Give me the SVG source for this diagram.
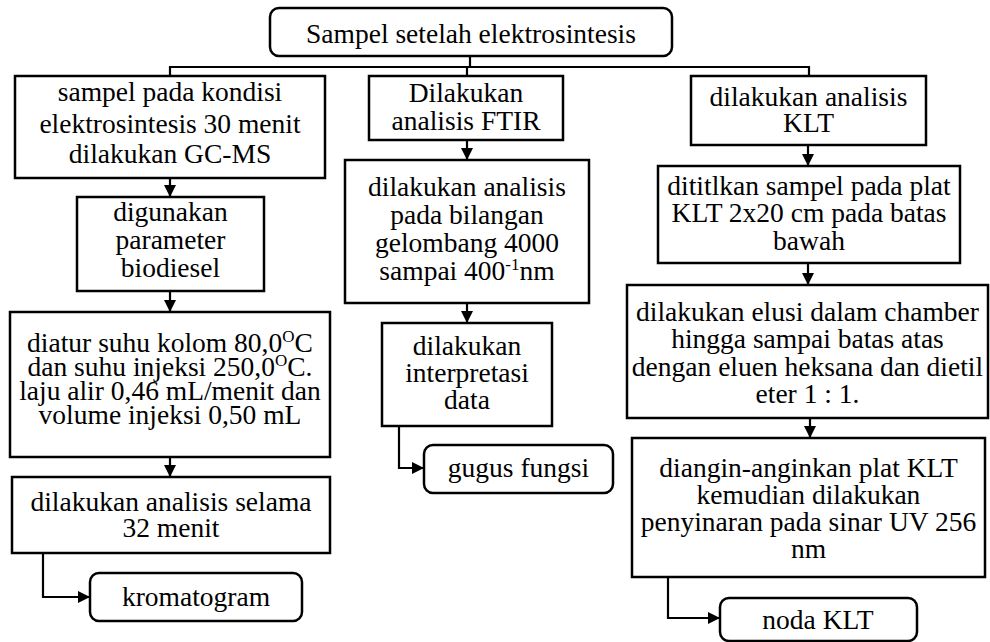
<svg xmlns="http://www.w3.org/2000/svg" width="990" height="642" viewBox="0 0 990 642">
  <style>
    .box { fill: #ffffff; stroke: #000000; stroke-width: 2.5; }
    .end { fill: #ffffff; stroke: #000000; stroke-width: 2.5; }
    .lbl { font-family: "Liberation Serif", "Times New Roman", serif; font-size: 27.5px; fill: #000000; text-anchor: middle; }
    .sup { font-size: 17px; }
    .wire { fill: none; stroke: #000000; stroke-width: 2.2; }
  </style>
  <defs>
    <marker id="arrow" viewBox="0 0 10 10" markerUnits="userSpaceOnUse" markerWidth="12" markerHeight="12" refX="10" refY="5" orient="auto">
      <path d="M0,0 L10,5 L0,10 z" fill="#000000"/>
    </marker>
  </defs>
  <rect width="990" height="642" fill="#ffffff"/>

  <!-- connectors -->
  <g id="connectors">
    <path class="wire" d="M470,56 V67"/>
    <path class="wire" d="M170,76 V67 H809 V76"/>
    <path class="wire" d="M467,67 V76"/>
    <path class="wire" d="M170,178 V197" marker-end="url(#arrow)"/>
    <path class="wire" d="M170,291 V312" marker-end="url(#arrow)"/>
    <path class="wire" d="M170,457 V477" marker-end="url(#arrow)"/>
    <path class="wire" d="M43,553 V597 H90" marker-end="url(#arrow)"/>
    <path class="wire" d="M467,140 V160" marker-end="url(#arrow)"/>
    <path class="wire" d="M467,303 V323" marker-end="url(#arrow)"/>
    <path class="wire" d="M399,426 V468 H424" marker-end="url(#arrow)"/>
    <path class="wire" d="M808,145 V166" marker-end="url(#arrow)"/>
    <path class="wire" d="M808,263 V285" marker-end="url(#arrow)"/>
    <path class="wire" d="M810,418 V438" marker-end="url(#arrow)"/>
    <path class="wire" d="M668,577 V618 H720" marker-end="url(#arrow)"/>
  </g>

  <!-- root -->
  <g id="sampel">
    <rect class="end" x="270" y="8" width="402" height="48" rx="9"/>
    <text class="lbl" x="471" y="43">Sampel setelah elektrosintesis</text>
  </g>

  <!-- GC-MS branch -->
  <g id="gcms">
    <rect class="box" x="15" y="76" width="310" height="102"/>
    <text class="lbl" x="170" y="101">sampel pada kondisi</text>
    <text class="lbl" x="170" y="133">elektrosintesis 30 menit</text>
    <text class="lbl" x="170" y="163">dilakukan GC-MS</text>
  </g>
  <g id="parameter">
    <rect class="box" x="77" y="197" width="187" height="94"/>
    <text class="lbl" x="170.5" y="221">digunakan</text>
    <text class="lbl" x="170.5" y="249">parameter</text>
    <text class="lbl" x="170.5" y="277">biodiesel</text>
  </g>
  <g id="kondisi">
    <rect class="box" x="10" y="312" width="320" height="145"/>
    <text class="lbl" x="170" y="352">diatur suhu kolom 80,0<tspan class="sup" dy="-10">O</tspan><tspan dy="10">C</tspan></text>
    <text class="lbl" x="170" y="376">dan suhu injeksi 250,0<tspan class="sup" dy="-10">O</tspan><tspan dy="10">C.</tspan></text>
    <text class="lbl" x="170" y="400">laju alir 0,46 mL/menit dan</text>
    <text class="lbl" x="170" y="424">volume injeksi 0,50 mL</text>
  </g>
  <g id="analisis-gcms">
    <rect class="box" x="12" y="477" width="318" height="76"/>
    <text class="lbl" x="171" y="511">dilakukan analisis selama</text>
    <text class="lbl" x="171" y="537">32 menit</text>
  </g>
  <g id="kromatogram">
    <rect class="end" x="90" y="573" width="212" height="48" rx="9"/>
    <text class="lbl" x="196" y="606">kromatogram</text>
  </g>

  <!-- FTIR branch -->
  <g id="ftir">
    <rect class="box" x="369" y="76" width="194" height="64"/>
    <text class="lbl" x="466" y="102">Dilakukan</text>
    <text class="lbl" x="466" y="130">analisis FTIR</text>
  </g>
  <g id="bilangan">
    <rect class="box" x="345" y="160" width="244" height="143"/>
    <text class="lbl" x="467" y="196">dilakukan analisis</text>
    <text class="lbl" x="467" y="224">pada bilangan</text>
    <text class="lbl" x="467" y="252">gelombang 4000</text>
    <text class="lbl" x="467" y="280">sampai 400<tspan class="sup" dy="-10">-1</tspan><tspan dy="10">nm</tspan></text>
  </g>
  <g id="interpretasi">
    <rect class="box" x="382" y="323" width="170" height="103"/>
    <text class="lbl" x="467" y="355">dilakukan</text>
    <text class="lbl" x="467" y="382">interpretasi</text>
    <text class="lbl" x="467" y="409">data</text>
  </g>
  <g id="gugus-fungsi">
    <rect class="end" x="424" y="445" width="189" height="48" rx="9"/>
    <text class="lbl" x="518.5" y="477">gugus fungsi</text>
  </g>

  <!-- KLT branch -->
  <g id="klt">
    <rect class="box" x="691" y="76" width="235" height="69"/>
    <text class="lbl" x="808.5" y="106">dilakukan analisis</text>
    <text class="lbl" x="808.5" y="132">KLT</text>
  </g>
  <g id="penotolan">
    <rect class="box" x="658" y="166" width="302" height="97"/>
    <text class="lbl" x="809" y="195">dititlkan sampel pada plat</text>
    <text class="lbl" x="809" y="222">KLT 2x20 cm pada batas</text>
    <text class="lbl" x="809" y="250">bawah</text>
  </g>
  <g id="elusi">
    <rect class="box" x="627" y="285" width="361" height="133"/>
    <text class="lbl" x="807.5" y="321">dilakukan elusi dalam chamber</text>
    <text class="lbl" x="807.5" y="348">hingga sampai batas atas</text>
    <text class="lbl" x="807.5" y="376">dengan eluen heksana dan dietil</text>
    <text class="lbl" x="807.5" y="403">eter 1 : 1.</text>
  </g>
  <g id="penyinaran">
    <rect class="box" x="632" y="438" width="353" height="139"/>
    <text class="lbl" x="808.5" y="477">diangin-anginkan plat KLT</text>
    <text class="lbl" x="808.5" y="504">kemudian dilakukan</text>
    <text class="lbl" x="808.5" y="531">penyinaran pada sinar UV 256</text>
    <text class="lbl" x="808.5" y="558">nm</text>
  </g>
  <g id="noda-klt">
    <rect class="end" x="720" y="598" width="197" height="43" rx="9"/>
    <text class="lbl" x="818" y="629">noda KLT</text>
  </g>
</svg>
